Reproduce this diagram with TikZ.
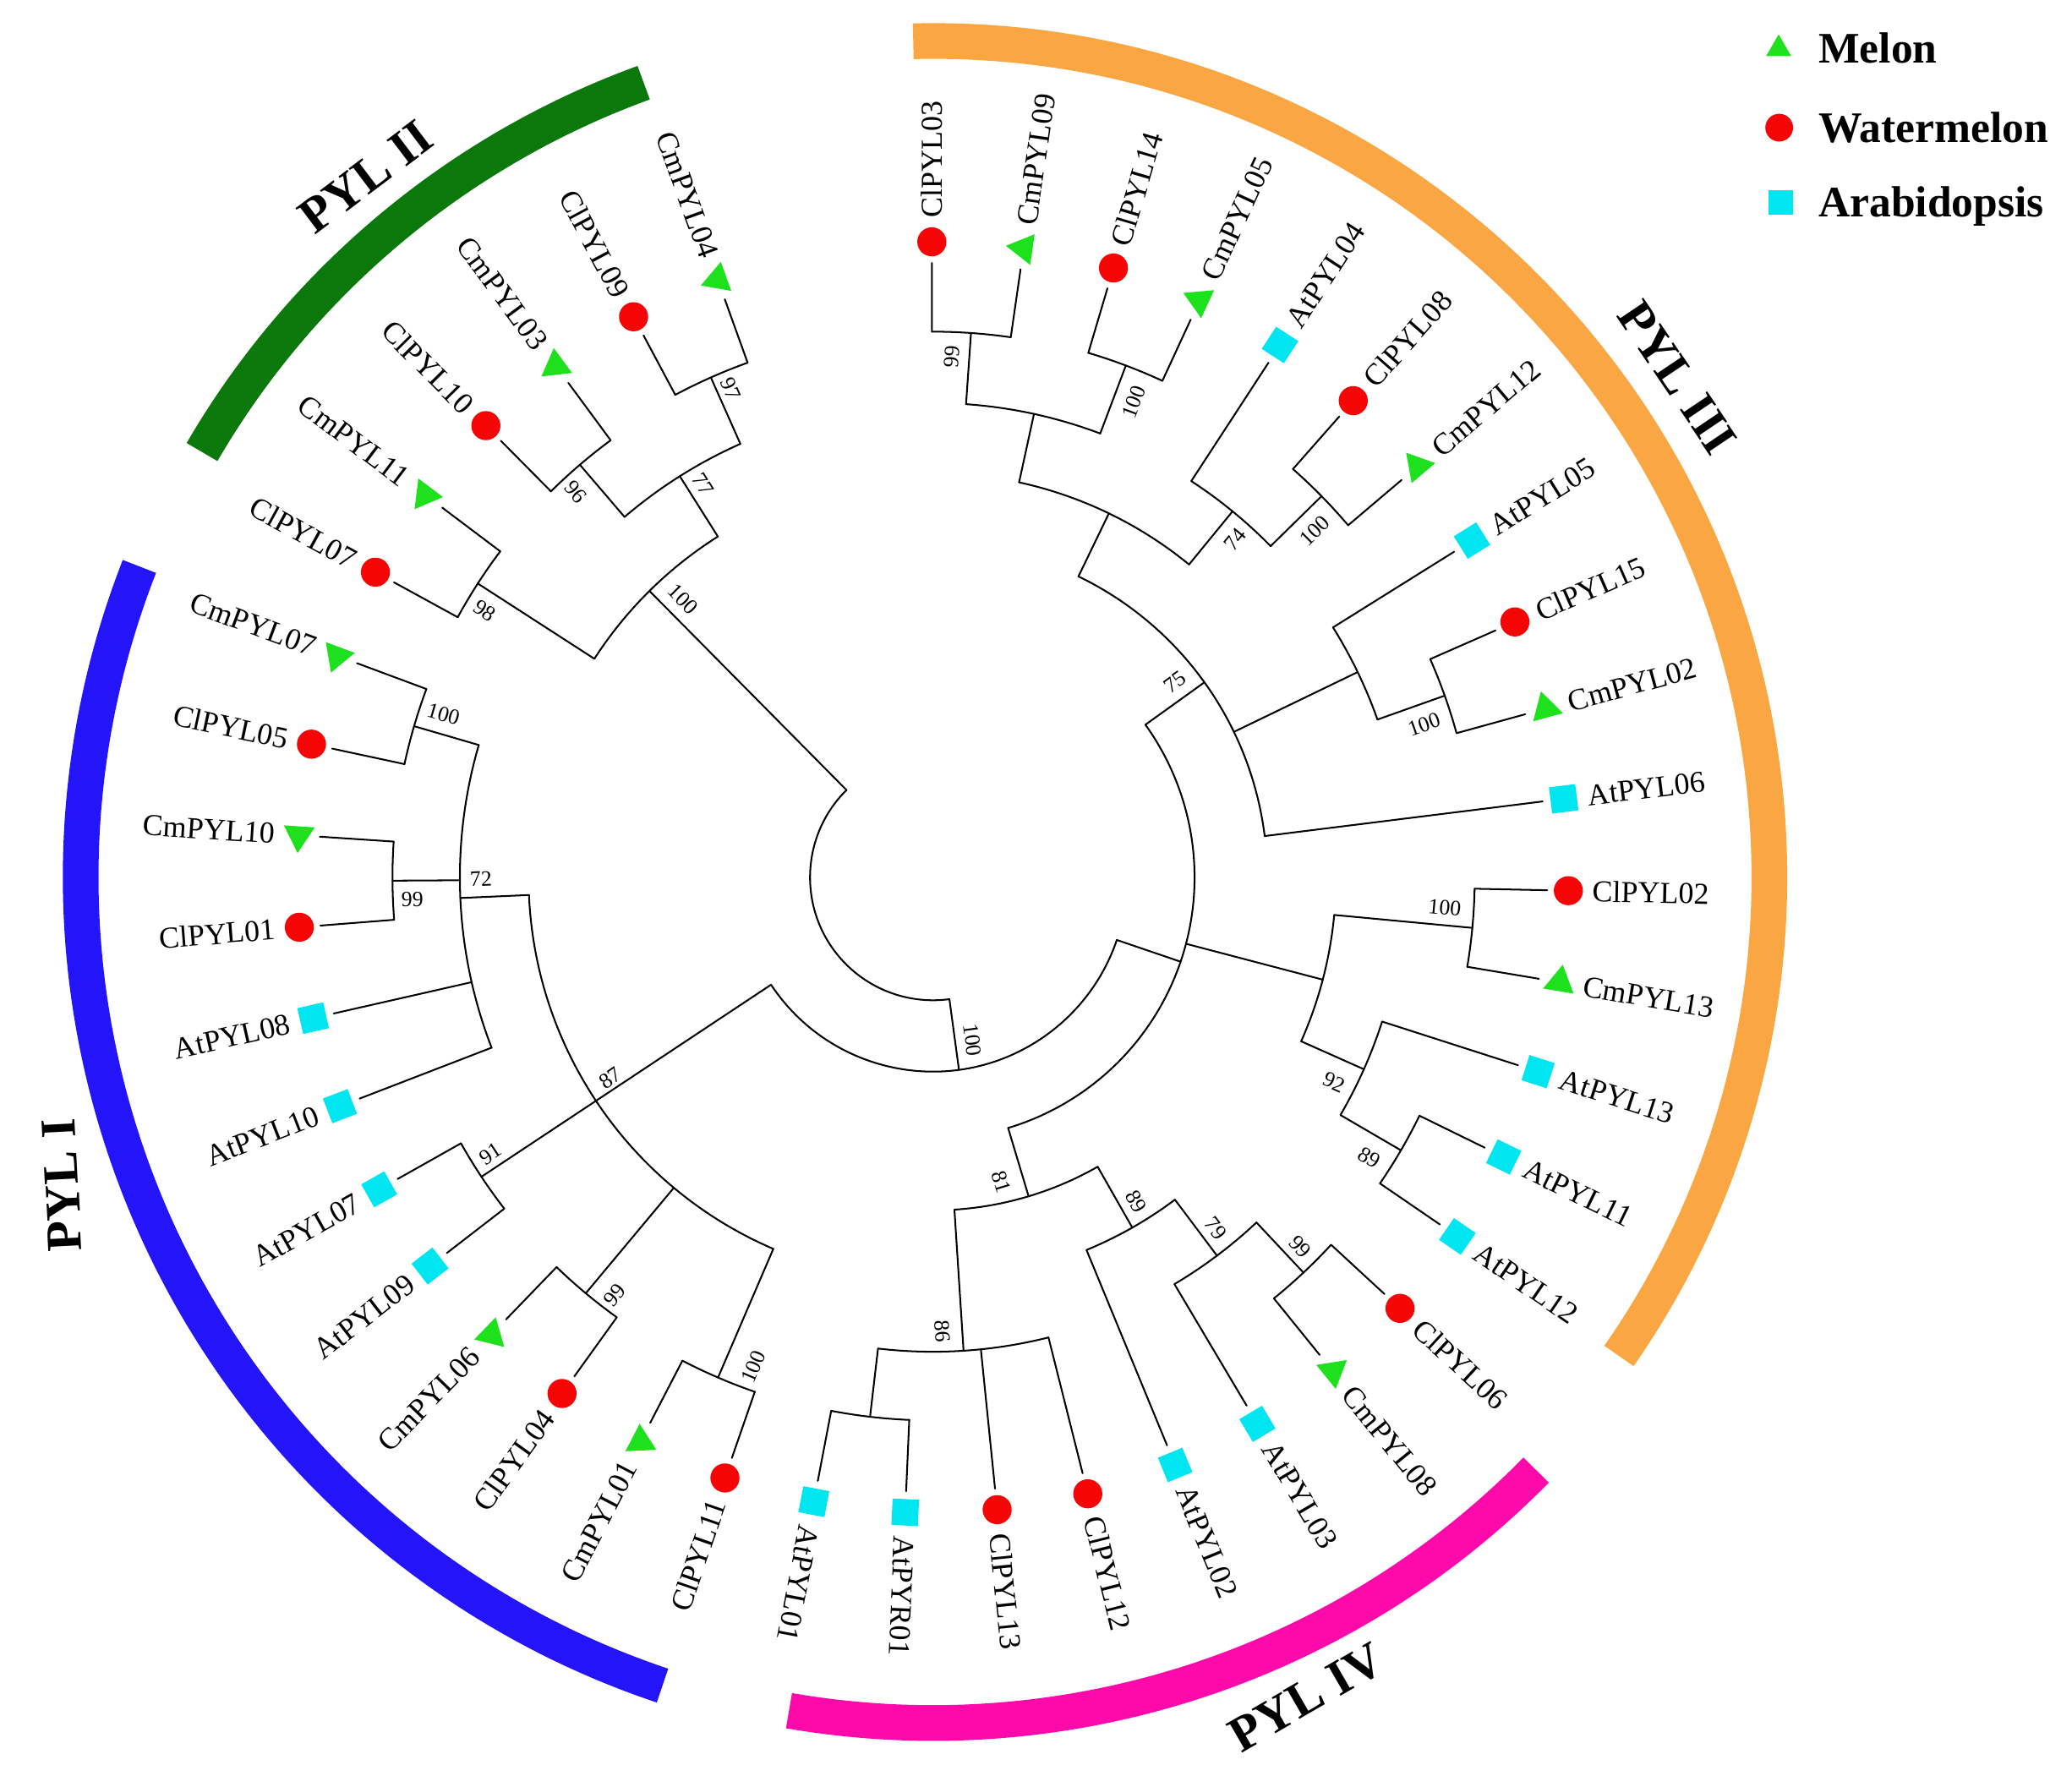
\documentclass[tikz,border=0pt]{standalone}
\usepackage{fontspec}
\setmainfont{Liberation Serif}
\usetikzlibrary{shapes.geometric}
\definecolor{mgreen}{RGB}{30,225,30}
\definecolor{mred}{RGB}{245,5,5}
\definecolor{mcyan}{RGB}{0,230,240}
\definecolor{borange}{RGB}{250,166,67}
\definecolor{bgreen}{RGB}{10,120,10}
\definecolor{bblue}{RGB}{35,20,250}
\definecolor{bmag}{RGB}{255,10,170}
\tikzset{
  br/.style={line width=1.3pt, line cap=round, line join=round},
  tri/.style={regular polygon, regular polygon sides=3, minimum size=27pt, inner sep=0pt, fill=mgreen},
  circ/.style={circle, minimum size=22pt, inner sep=0pt, fill=mred},
  sqr/.style={rectangle, minimum size=20pt, inner sep=0pt, fill=mcyan},
  lab/.style={inner sep=0pt, font=\fontsize{23}{26}\selectfont},
  bs/.style={inner sep=0pt, font=\fontsize{16.5}{19}\selectfont},
  grp/.style={inner sep=0pt, font=\fontsize{38}{44}\selectfont\bfseries},
  leg/.style={inner sep=0pt, anchor=base west, font=\fontsize{33}{38}\selectfont\bfseries},
  band/.style={line width=27pt},
}
\newcommand\arcr[3]{\draw[br] (#1:#3) arc[start angle=#1, end angle=#2, radius=#3];}
\newcommand\leafR[5]{%
  \node[#4, rotate=#2] (#1) at (#2:481) {};
  \draw[br, shorten >=16pt] (#2:#3) -- (#1.center);
  \node[lab, anchor=west, rotate=#2] (#1t) at (#2:499) {#5};}
\newcommand\leafL[5]{%
  \node[#4, rotate=#2] (#1) at (#2:481) {};
  \draw[br, shorten >=16pt] (#2:#3) -- (#1.center);
  \node[lab, anchor=east, rotate=#2-180] (#1t) at (#2:499) {#5};}
\begin{document}
\begin{tikzpicture}[x=1pt,y=1pt]
\fill[white] (0,0) rectangle (1568,-1344);
\useasboundingbox (0,0) rectangle (1568,-1344);
\begin{scope}[shift={(706,-664)}]
% clade bands
\draw[band, bgreen] (110:640) arc[start angle=110, end angle=149.8, radius=640];
\draw[band, borange] (91.35:633) arc[start angle=91.35, end angle=-34.9, radius=633];
\draw[band, bmag] (-99.8:640) arc[start angle=-99.8, end angle=-44.5, radius=640];
\draw[band, bblue] (158.6:645) arc[start angle=158.6, end angle=251.5, radius=645];
% root
\arcr{134.7}{277.7}{93}
\coordinate (nB0) at (277.7:147);
\draw[br] (277.7:93) -- (nB0);
\arcr{213.55}{341.2}{147}
\coordinate (nC0) at (341.2:198);
\draw[br] (341.2:147) -- (nC0);
\arcr{35.7}{-73.3}{198}
% PYL III upper
\coordinate (n75) at (35.7:253); \draw[br] (35.7:198) -- (n75);
\arcr{64.2}{7.1}{253}
\coordinate (nY) at (64.2:306); \draw[br] (64.2:253) -- (nY);
\arcr{77.7}{50.7}{306}
\coordinate (nX1) at (77.7:359); \draw[br] (77.7:306) -- (nX1);
\arcr{86}{69.35}{359}
\coordinate (n99a) at (86:413); \draw[br] (86:359) -- (n99a);
\arcr{90.1}{81.8}{413}
\coordinate (n100a) at (69.35:414); \draw[br] (69.35:359) -- (n100a);
\arcr{73.5}{65.2}{414}
\coordinate (n74) at (50.7:358); \draw[br] (50.7:306) -- (n74);
\arcr{56.9}{44.45}{358}
\coordinate (n100b) at (44.45:412); \draw[br] (44.45:358) -- (n100b);
\arcr{48.6}{40.3}{412}
\coordinate (nA5) at (25.8:357); \draw[br] (25.8:253) -- (nA5);
\arcr{32}{19.55}{357}
\coordinate (n100c) at (19.55:411); \draw[br] (19.55:357) -- (n100c);
\arcr{23.7}{15.4}{411}
% PYL III lower
\coordinate (nB) at (-14.7:305); \draw[br] (-14.7:198) -- (nB);
\arcr{-5.35}{-24}{305}
\coordinate (n100d) at (-5.35:410); \draw[br] (-5.35:305) -- (n100d);
\arcr{-1.2}{-9.5}{410}
\coordinate (n92) at (-24:357); \draw[br] (-24:305) -- (n92);
\arcr{-17.8}{-30.25}{357}
\coordinate (n89a) at (-30.25:410); \draw[br] (-30.25:357) -- (n89a);
\arcr{-26.1}{-34.4}{410}
% PYL IV
\coordinate (n81) at (-73.3:252); \draw[br] (-73.3:198) -- (n81);
\arcr{-60.35}{-86.3}{252}
\coordinate (n89b) at (-60.35:305); \draw[br] (-60.35:252) -- (n89b);
\arcr{-53.1}{-67.6}{305}
\coordinate (n79) at (-53.1:358); \draw[br] (-53.1:305) -- (n79);
\arcr{-46.85}{-59.3}{358}
\coordinate (n99b) at (-46.85:410); \draw[br] (-46.85:358) -- (n99b);
\arcr{-42.7}{-51}{410}
\coordinate (n86) at (-86.3:359); \draw[br] (-86.3:252) -- (n86);
\arcr{-75.9}{-96.65}{359}
\coordinate (nP) at (-96.65:411); \draw[br] (-96.65:359) -- (nP);
\arcr{-92.5}{-100.8}{411}
% PYL I
\coordinate (n87) at (213.55:306); \draw[br] (213.55:147) -- (n87);
\arcr{182.5}{246.75}{306}
\coordinate (n72) at (182.5:358); \draw[br] (182.5:306) -- (n72);
\arcr{163.75}{201.1}{358}
\coordinate (n100f) at (163.75:409); \draw[br] (163.75:358) -- (n100f);
\arcr{159.6}{167.9}{409}
\coordinate (n99d) at (180.35:409); \draw[br] (180.35:358) -- (n99d);
\arcr{176.2}{184.5}{409}
\coordinate (n91) at (213.55:410); \draw[br] (n87) -- (n91);
\arcr{209.4}{217.7}{410}
\coordinate (n99c) at (230.15:410); \draw[br] (230.15:306) -- (n99c);
\arcr{226}{234.3}{410}
\coordinate (n100e) at (246.75:412); \draw[br] (246.75:306) -- (n100e);
\arcr{242.6}{250.9}{412}
% PYL II
\coordinate (n100g) at (134.7:305); \draw[br] (134.7:93) -- (n100g);
\arcr{122.25}{147.15}{305}
\coordinate (n77) at (122.25:359); \draw[br] (122.25:305) -- (n77);
\arcr{113.95}{130.55}{359}
\coordinate (n97) at (113.95:414); \draw[br] (113.95:359) -- (n97);
\arcr{109.8}{118.1}{414}
\coordinate (n96) at (130.55:411); \draw[br] (130.55:359) -- (n96);
\arcr{126.4}{134.7}{411}
\coordinate (n98) at (147.15:410); \draw[br] (147.15:305) -- (n98);
\arcr{143}{151.3}{410}
% leaves
\leafR{ClPYL03}{90.1}{413}{circ}{ClPYL03}
\leafR{CmPYL09}{81.8}{413}{tri}{CmPYL09}
\leafR{ClPYL14}{73.5}{414}{circ}{ClPYL14}
\leafR{CmPYL05}{65.2}{414}{tri}{CmPYL05}
\leafR{AtPYL04}{56.9}{358}{sqr}{AtPYL04}
\leafR{ClPYL08}{48.6}{412}{circ}{ClPYL08}
\leafR{CmPYL12}{40.3}{412}{tri}{CmPYL12}
\leafR{AtPYL05}{32.0}{357}{sqr}{AtPYL05}
\leafR{ClPYL15}{23.7}{411}{circ}{ClPYL15}
\leafR{CmPYL02}{15.4}{411}{tri}{CmPYL02}
\leafR{AtPYL06}{7.1}{253}{sqr}{AtPYL06}
\leafR{ClPYL02}{-1.2}{410}{circ}{ClPYL02}
\leafR{CmPYL13}{-9.5}{410}{tri}{CmPYL13}
\leafR{AtPYL13}{-17.8}{357}{sqr}{AtPYL13}
\leafR{AtPYL11}{-26.1}{410}{sqr}{AtPYL11}
\leafR{AtPYL12}{-34.4}{410}{sqr}{AtPYL12}
\leafR{ClPYL06}{-42.7}{410}{circ}{ClPYL06}
\leafR{CmPYL08}{-51.0}{410}{tri}{CmPYL08}
\leafR{AtPYL03}{-59.3}{358}{sqr}{AtPYL03}
\leafR{AtPYL02}{-67.6}{305}{sqr}{AtPYL02}
\leafR{ClPYL12}{-75.9}{359}{circ}{ClPYL12}
\leafR{ClPYL13}{-84.2}{359}{circ}{ClPYL13}
\leafR{AtPYR01}{-92.5}{411}{sqr}{AtPYR01}
\leafR{AtPYL01}{-100.8}{411}{sqr}{AtPYL01}
\leafL{ClPYL11}{250.9}{412}{circ}{ClPYL11}
\leafL{CmPYL01}{242.6}{412}{tri}{CmPYL01}
\leafL{ClPYL04}{234.3}{410}{circ}{ClPYL04}
\leafL{CmPYL06}{226.0}{410}{tri}{CmPYL06}
\leafL{AtPYL09}{217.7}{410}{sqr}{AtPYL09}
\leafL{AtPYL07}{209.4}{410}{sqr}{AtPYL07}
\leafL{AtPYL10}{201.1}{358}{sqr}{AtPYL10}
\leafL{AtPYL08}{192.8}{358}{sqr}{AtPYL08}
\leafL{ClPYL01}{184.5}{409}{circ}{ClPYL01}
\leafL{CmPYL10}{176.2}{409}{tri}{CmPYL10}
\leafL{ClPYL05}{167.9}{409}{circ}{ClPYL05}
\leafL{CmPYL07}{159.6}{409}{tri}{CmPYL07}
\leafL{ClPYL07}{151.3}{410}{circ}{ClPYL07}
\leafL{CmPYL11}{143.0}{410}{tri}{CmPYL11}
\leafL{ClPYL10}{134.7}{411}{circ}{ClPYL10}
\leafL{CmPYL03}{126.4}{411}{tri}{CmPYL03}
\leafL{ClPYL09}{118.1}{414}{circ}{ClPYL09}
\leafL{CmPYL04}{109.8}{414}{tri}{CmPYL04}
\end{scope}
% bootstrap values
\node[bs, rotate=86] (b1) at (720.5,-269.9) {99};
\node[bs, rotate=69.35] (b2) at (858,-304) {100};
\node[bs, rotate=50.7] (b3) at (934.8,-408.5) {74};
\node[bs, rotate=44.45] (b4) at (994.9,-401.9) {100};
\node[bs, rotate=35.7] (b5) at (889,-516.3) {75};
\node[bs, rotate=19.55] (b6) at (1077.6,-548.3) {100};
\node[bs, rotate=-5.35] (b7) at (1093.3,-687) {100};
\node[bs, rotate=-24] (b8) at (1009.7,-819.1) {92};
\node[bs, rotate=-30.25] (b9) at (1036.4,-876) {89};
\node[bs, rotate=-73.3] (b10) at (757.8,-894.3) {81};
\node[bs, rotate=-86.3] (b11) at (713,-1007.4) {86};
\node[bs, rotate=-60.35] (b12) at (859.7,-909.3) {89};
\node[bs, rotate=-53.1] (b13) at (919.9,-929.5) {79};
\node[bs, rotate=-46.85] (b14) at (983.9,-943.4) {99};
\node[bs, rotate=-82.3] (b15) at (736,-787.1) {100};
\node[bs, rotate=66.75] (b16) at (570.2,-1034.3) {100};
\node[bs, rotate=50.15] (b17) at (465,-980) {99};
\node[bs, rotate=33.55] (b18) at (371.2,-873.2) {91};
\node[bs, rotate=34.9] (b19) at (461.8,-816) {87};
\node[bs, rotate=2.5] (b20) at (364,-665) {72};
\node[bs, rotate=0.35] (b21) at (312,-680.8) {99};
\node[bs, rotate=-16.25] (b22) at (335.6,-540.5) {100};
\node[bs, rotate=-32.85] (b23) at (366.9,-462.4) {98};
\node[bs, rotate=-45.3] (b24) at (516.9,-453.4) {100};
\node[bs, rotate=-49.45] (b25) at (435.9,-372.4) {96};
\node[bs, rotate=-57.75] (b26) at (531.9,-366.4) {77};
\node[bs, rotate=-66.05] (b27) at (552.9,-294.4) {97};
% clade names
\node[grp, rotate=37] (g2) at (276.9,-133.9) {PYL II};
\node[grp, rotate=-56] (g3) at (1269.4,-285.6) {PYL III};
\node[grp, rotate=30] (g4) at (988.6,-1284.6) {PYL IV};
\node[grp, rotate=93] (g1) at (47,-897) {PYL I};
% legend
\node[tri, minimum size=22pt] (lg1) at (1346,-37) {};
\node[leg] (lt1) at (1376,-47.8) {Melon};
\node[circ, minimum size=21pt] (lg2) at (1346.4,-96.6) {};
\node[leg] (lt2) at (1376,-107.5) {Watermelon};
\node[sqr, minimum size=19pt] (lg3) at (1347.6,-153.2) {};
\node[leg] (lt3) at (1376,-164.1) {Arabidopsis};
\end{tikzpicture}
\end{document}
